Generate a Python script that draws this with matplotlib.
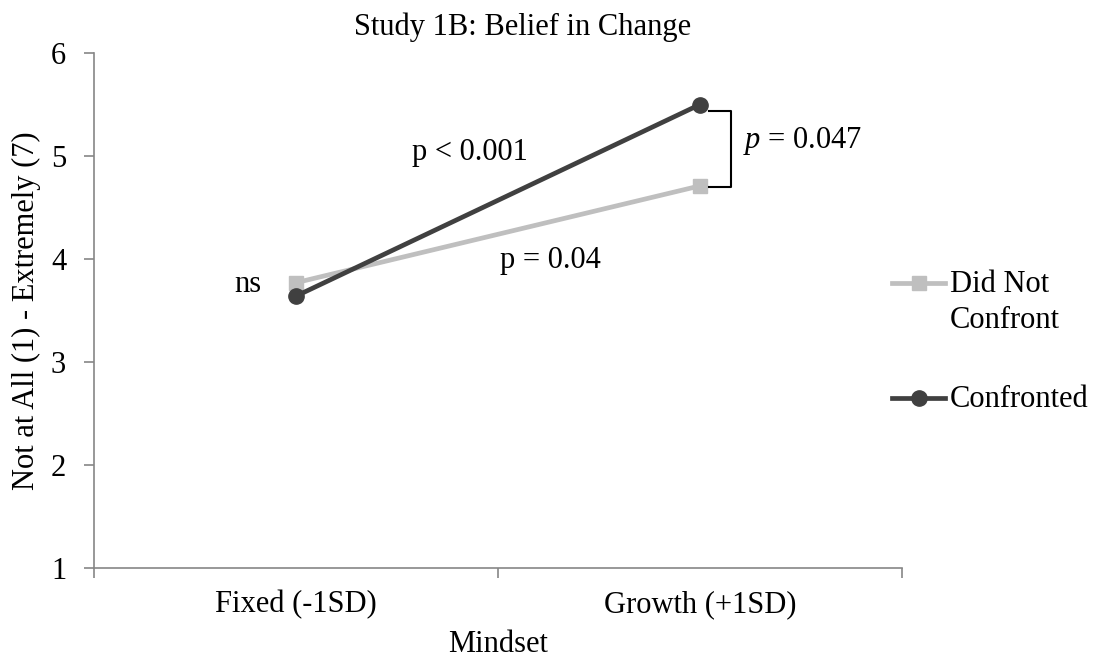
import numpy as np
import matplotlib.pyplot as plt
from matplotlib.lines import Line2D

plt.rcParams['font.family'] = ['Liberation Serif', 'DejaVu Serif']
plt.rcParams['mathtext.fontset'] = 'custom'
plt.rcParams['mathtext.rm'] = 'Liberation Serif'
plt.rcParams['mathtext.it'] = 'Liberation Serif:italic'

# data
categories = ['Fixed (-1SD)', 'Growth (+1SD)']
did_not_confront = [3.77, 4.71]
confronted = [3.64, 5.50]
yticks = [1, 2, 3, 4, 5, 6]
series_labels = ['Did Not\nConfront', 'Confronted']

light = '#BFBFBF'
dark = '#404040'
axis_grey = '#868686'
FS = 22

W, H = 1104, 669
fig = plt.figure(figsize=(W / 100, H / 100), dpi=100)
ax = fig.add_axes([94 / W, 1 - 568 / H, 808 / W, 515 / H])

x = np.arange(len(categories)) + 0.5
ax.plot(x, did_not_confront, color=light, linewidth=3.4, marker='s', markersize=10,
        zorder=2)
ax.plot(x, confronted, color=dark, linewidth=3.4, marker='o', markersize=11,
        zorder=3)

ax.set_xlim(0, len(categories))
ax.set_ylim(1, 6)
ax.set_yticks(yticks)
ax.set_yticklabels([str(v) for v in yticks], fontsize=FS)
ax.set_xticks(range(len(categories) + 1))
ax.set_xticklabels([])
ax.set_xticks(x, minor=True)
ax.set_xticklabels(categories, minor=True, fontsize=FS)
ax.tick_params(axis='x', which='minor', length=0, pad=16)
ax.tick_params(axis='both', which='major', length=7, width=1.2, color=axis_grey, direction='out')
ax.tick_params(axis='y', pad=13)

for side in ['top', 'right']:
    ax.spines[side].set_visible(False)
for side in ['left', 'bottom']:
    ax.spines[side].set_color(axis_grey)
    ax.spines[side].set_linewidth(1.2)

fig.text(523 / W, 1 - 35 / H, 'Study 1B: Belief in Change', fontsize=FS,
         ha='center', va='baseline')
ax.set_xlabel('Mindset', fontsize=FS, va='top')
ax.xaxis.set_label_coords(0.5, (568 - 630) / 515)
ax.set_ylabel('Not at All (1) - Extremely (7)', fontsize=FS)
ax.yaxis.set_label_coords((41 - 94) / 808, 0.5)

# annotations
ax.text(0.931, 5.03, 'p < 0.001', fontsize=FS, ha='center', va='center')
ax.text(1.131, 3.99, 'p = 0.04', fontsize=FS, ha='center', va='center')
ax.text(0.381, 3.75, 'ns', fontsize=FS, ha='center', va='center')
ax.text(1.606, 5.15, r'$p$ = 0.047', fontsize=FS, ha='left', va='center')

# bracket between the two growth points
bx0, bx1 = 1.522, 1.577
btop, bbot = confronted[1] - 0.06, did_not_confront[1] - 0.01
ax.plot([bx0, bx1, bx1, bx0], [btop, btop, bbot, bbot], color='black',
        linewidth=1.5, clip_on=False)

# legend (drawn by hand so the handle sits on the first text line)
legend_rows = [(283, light, 's', 10), (398, dark, 'o', 11)]
for label, (py, col, mk, ms) in zip(series_labels, legend_rows):
    fy = 1 - py / H
    fig.add_artist(Line2D([892 / W, 945 / W], [fy, fy], color=col, linewidth=3.4))
    fig.add_artist(Line2D([918.5 / W], [fy], color=col, marker=mk, markersize=ms))
    fig.text(950 / W, 1 - (py + 9) / H, label.split('\n')[0], fontsize=FS,
             ha='left', va='baseline')
    if '\n' in label:
        fig.text(950 / W, 1 - (py + 45) / H, label.split('\n')[1], fontsize=FS,
                 ha='left', va='baseline')

fig.savefig('out.png', dpi=100, facecolor='white')
